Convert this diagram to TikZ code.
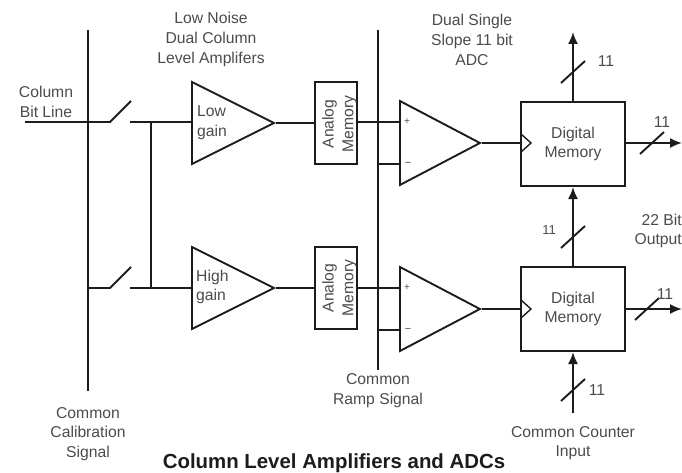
\documentclass[tikz,border=0pt]{standalone}
\usepackage{fontspec}
\setmainfont{Liberation Sans}
\usetikzlibrary{arrows.meta,calc,positioning,shapes.geometric}
\definecolor{ink}{RGB}{28,28,28}
\definecolor{caption}{RGB}{75,75,75}
\begin{document}
\begin{tikzpicture}[x=1pt,y=-1pt,>={Latex[length=12pt,width=10pt]},
 wire/.style={draw=ink,line width=1.9pt},
 lbl/.style={align=center,text=caption,font=\fontsize{15.7}{19.7}\selectfont,inner sep=0pt},
 amp/.style={draw=ink,line width=1.9pt,isosceles triangle,isosceles triangle stretches,shape border rotate=0,minimum width=82pt,minimum height=82pt,inner sep=0pt,anchor=lower side},
 cmp/.style={amp,minimum width=84pt,minimum height=80pt},
 membox/.style={draw=ink,line width=2pt,minimum width=42pt,minimum height=82pt,inner sep=0pt},
 digbox/.style={draw=ink,line width=2pt,minimum width=104pt,minimum height=84pt,inner sep=0pt,align=center,text=caption,font=\fontsize{15.7}{19.7}\selectfont}]
\useasboundingbox (0,0) rectangle (682,473);
\node[amp] (ampA) at (191,123) {};
\node[amp] (ampB) at (191,288) {};
\node[lbl,align=left,anchor=west] (lowT) at (197,122.5) {Low\\gain};
\node[lbl,align=left,anchor=west] (highT) at (196,287) {High\\gain};
\node[membox] (memA) at (336,123.5) {};
\node[membox] (memB) at (336,288) {};
\node[lbl,rotate=90] (memAT) at (339.5,124) {Analog\\Memory};
\node[lbl,rotate=90] (memBT) at (339.5,288) {Analog\\Memory};
\node[cmp] (cmpA) at (399,143) {};
\node[cmp] (cmpB) at (399,309) {};
\node[lbl,font=\fontsize{10}{10}\selectfont] (plusA) at (407,122) {+};
\node[lbl,font=\fontsize{11}{11}\selectfont] (minusA) at (408,164) {−};
\node[lbl,font=\fontsize{10}{10}\selectfont] (plusB) at (407,288) {+};
\node[lbl,font=\fontsize{11}{11}\selectfont] (minusB) at (408,330) {−};
\node[digbox] (digA) at (573,144) {Digital\\Memory};
\node[digbox] (digB) at (573,309) {Digital\\Memory};
\coordinate (calTop) at (88,30);
\coordinate (calBot) at (88,391);
\coordinate (rampTop) at (378,30);
\coordinate (rampBot) at (378,370);
\coordinate (bitIn) at (25,122);
\coordinate (swAl) at (110,122);
\coordinate (swAr) at (131,101);
\coordinate (swAo) at (130,122);
\coordinate (swBl) at (110,288);
\coordinate (swBr) at (131,267);
\coordinate (swBo) at (130,288);
\coordinate (tieA) at (151,122);
\coordinate (tieB) at (151,288);
\coordinate (topEnd) at (573,32);
\coordinate (cntIn) at (573,413);
\coordinate (outA) at (682,143);
\coordinate (outB) at (682,309);
\draw[wire] (calTop)--(calBot);
\draw[wire] (rampTop)--(rampBot);
\draw[wire] (bitIn)--(swAl)--(swAr);
\draw[wire] (calBot|-swBl)--(swBl)--(swBr);
\draw[wire] (swAo)--(ampA.lower side|-swAo);
\draw[wire] (swBo)--(ampB.lower side|-swBo);
\draw[wire] (tieA)--(tieB);
\draw[wire] (ampA.apex)--(memA.west|-ampA.apex);
\draw[wire] (ampB.apex)--(memB.west|-ampB.apex);
\draw[wire] (memA.east|-plusA)--(cmpA.lower side|-plusA);
\draw[wire] (memB.east|-plusB)--(cmpB.lower side|-plusB);
\draw[wire] (rampTop|-minusA)--(cmpA.lower side|-minusA);
\draw[wire] (rampTop|-minusB)--(cmpB.lower side|-minusB);
\draw[wire] (cmpA.apex)--(digA.west|-cmpA.apex);
\draw[wire] (cmpB.apex)--(digB.west|-cmpB.apex);
\draw[draw=ink,line width=1.4pt] (521,134)--(531,143)--(521,152);
\draw[draw=ink,line width=1.4pt] (521,300)--(531,309)--(521,318);
\draw[wire,->] (digA.north)--(topEnd);
\draw[wire,->] (digB.north)--(digA.south);
\draw[wire,->] (cntIn)--(digB.south);
\draw[wire,->] (digA.east|-outA)--(outA);
\draw[wire,->] (digB.east|-outB)--(outB);
\foreach \sx/\sy in {573/72,573/237,573/390,652/143,647/309}
 \draw[wire] ($(\sx,\sy)+(-12,11)$)--($(\sx,\sy)+(12,-11)$);
\node[lbl] (busTop) at (606,61) {11};
\node[lbl,font=\fontsize{13}{13}\selectfont] (busMid) at (549,230) {11};
\node[lbl] (busBot) at (597,390) {11};
\node[lbl] (busOutA) at (662,122) {11};
\node[lbl] (busOutB) at (665,294) {11};
\node[lbl] (ampT) at (211,39.5) {Low Noise\\Dual Column\\Level Amplifers};
\node[lbl] (adcT) at (472,40) {Dual Single\\Slope 11 bit\\ADC};
\node[lbl] (bitT) at (46,102) {Column\\Bit Line};
\node[lbl,align=right,anchor=east] (outT) at (682,231) {22 Bit\\Output};
\node[lbl] (rampT) at (378,390.5) {Common\\Ramp Signal};
\node[lbl] (calT) at (88,434) {Common\\Calibration\\Signal};
\node[lbl] (cntT) at (573,443) {Common Counter\\Input};
\node[font=\bfseries\fontsize{20.4}{24}\selectfont,text=ink,inner sep=0pt] (title) at (334,463) {Column Level Amplifiers and ADCs};
\end{tikzpicture}
\end{document}
